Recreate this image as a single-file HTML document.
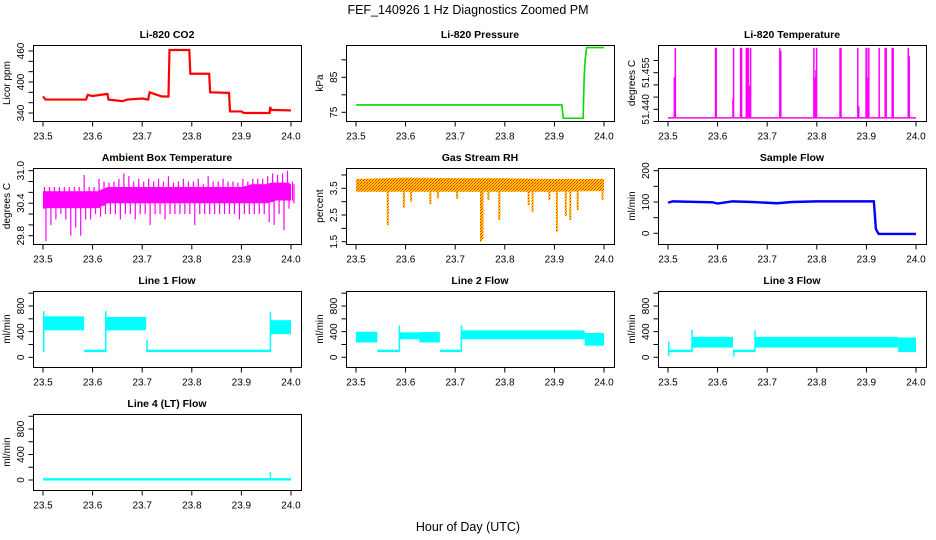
<!DOCTYPE html>
<html><head><meta charset="utf-8"><style>
html,body{margin:0;padding:0;background:#fff;}
svg{display:block;font-family:"Liberation Sans",Arial,sans-serif;}
</style></head><body>
<svg id="chart" width="936" height="540" viewBox="0 0 936 540" xmlns="http://www.w3.org/2000/svg">
<defs>
<pattern id="rhpat" width="3" height="3" patternUnits="userSpaceOnUse">
<rect width="3" height="3" fill="#ffc800"/><rect width="1" height="1" fill="#ff3000"/><rect x="1" y="2" width="1" height="1" fill="#ff3000"/><rect x="2" y="1" width="1" height="1" fill="#ff6000"/>
</pattern>
</defs>
<text x="468" y="14" text-anchor="middle" font-size="12.5" fill="#000">FEF_140926  1 Hz Diagnostics Zoomed PM</text>
<text x="468" y="531" text-anchor="middle" font-size="12.5" fill="#000">Hour of Day (UTC)</text>
</svg>
<script>
// ---- data ----
const xTicks = [23.5, 23.6, 23.7, 23.8, 23.9, 24.0];
const xTickLabels = ["23.5", "23.6", "23.7", "23.8", "23.9", "24.0"];

const co2T = [23.5,23.505,23.587,23.59,23.60,23.63,23.632,23.66,23.67,23.70,23.712,23.715,23.73,23.74,23.753,23.755,23.795,23.797,23.835,23.837,23.875,23.877,23.90,23.905,23.957,23.958,23.96,24.0];
const co2V = [372,366,366,375,373,377,366,363,366,368,366,380,375,372,372,462,462,416,416,380,379,343,343,340,340,352,346,345];

const presT = [23.5,23.915,23.918,23.958,23.96,23.962,23.965,24.0];
const presV = [77.1,77.1,73.3,73.3,85,90,93.5,93.5];

const tempBase = 51.4365;
const tempSpikeT = [23.5128,23.5148,23.5958,23.5972,23.631,23.6322,23.6464,23.6484,23.6579,23.6606,23.662,23.6646,23.6666,23.7254,23.7274,23.7941,23.7962,23.7982,23.7996,23.8468,23.8488,23.8826,23.8846,23.8994,23.9008,23.9022,23.9049,23.9257,23.9379,23.9399,23.952,23.954,23.9844,23.9864];
const tempSpikeV = [51.4532,51.4652,51.4652,51.4652,51.4442,51.4652,51.4652,51.4652,51.4652,51.4652,51.4652,51.4498,51.4652,51.4652,51.4639,51.4652,51.4532,51.456,51.4652,51.4652,51.4652,51.4652,51.4413,51.4652,51.4652,51.4532,51.4652,51.4652,51.4652,51.4652,51.4652,51.4652,51.4652,51.4617];

const ambT = [23.50,23.51,23.52,23.53,23.54,23.55,23.56,23.57,23.58,23.59,23.60,23.61,23.62,23.63,23.64,23.65,23.66,23.67,23.68,23.69,23.70,23.71,23.72,23.73,23.74,23.75,23.76,23.77,23.78,23.79,23.80,23.81,23.82,23.83,23.84,23.85,23.86,23.87,23.88,23.89,23.90,23.91,23.92,23.93,23.94,23.95,23.96,23.97,23.98,23.99,24.0];
const ambCoreLo = [30.30,30.31,30.31,30.31,30.31,30.31,30.31,30.31,30.31,30.31,30.31,30.31,30.35,30.40,30.40,30.40,30.40,30.40,30.40,30.40,30.40,30.40,30.40,30.40,30.40,30.40,30.40,30.40,30.40,30.40,30.40,30.40,30.40,30.40,30.40,30.40,30.40,30.40,30.40,30.40,30.40,30.40,30.40,30.40,30.40,30.40,30.42,30.45,30.45,30.45,30.45];
const ambCoreHi = [30.62,30.62,30.62,30.62,30.62,30.62,30.62,30.62,30.62,30.62,30.62,30.62,30.66,30.70,30.70,30.70,30.70,30.70,30.70,30.70,30.70,30.70,30.70,30.70,30.70,30.70,30.70,30.70,30.70,30.70,30.70,30.70,30.70,30.70,30.70,30.70,30.70,30.70,30.70,30.70,30.70,30.72,30.75,30.75,30.75,30.75,30.78,30.78,30.78,30.78,30.75];
const ambSpikeHi = [30.70,30.70,30.70,30.70,30.70,30.70,30.70,30.70,30.92,30.70,30.70,30.85,30.80,30.78,30.80,30.85,30.95,30.90,30.80,30.85,30.80,30.85,30.80,30.85,30.80,30.90,30.78,30.80,30.85,30.80,30.80,30.85,30.75,30.90,30.80,30.80,30.85,30.80,30.80,30.78,30.85,30.80,30.85,30.85,30.85,30.90,30.95,30.92,30.95,31.0,30.8];
const ambSpikeLo = [29.70,30.00,30.10,30.20,30.10,29.80,29.95,29.80,30.10,30.10,30.20,30.15,30.20,30.20,30.20,30.10,30.20,30.20,30.10,30.20,30.20,30.00,30.20,30.20,30.10,30.20,30.20,30.20,30.20,30.20,30.00,30.20,30.20,30.20,30.20,30.20,30.20,30.20,30.20,30.10,30.20,30.20,30.20,30.20,30.20,30.05,30.00,30.20,29.90,30.30,30.4];

const rhCoreT = [23.5,23.6,23.7,23.8,23.9,24.0];
const rhCoreLo = [3.37,3.37,3.37,3.37,3.37,3.40];
const rhCoreHi = [3.85,3.90,3.88,3.88,3.85,3.85];
const rhSpikeT = [23.564,23.5965,23.611,23.65,23.665,23.704,23.73,23.752,23.755,23.767,23.789,23.848,23.856,23.89,23.905,23.923,23.932,23.947,23.997];
const rhSpikeV = [2.12,2.77,3.0,2.91,3.12,3.12,3.37,1.5,1.6,3.06,2.31,2.87,2.62,3.06,1.87,2.47,2.31,2.69,3.06];

const sfT = [23.5,23.51,23.59,23.60,23.63,23.67,23.72,23.75,23.80,23.915,23.917,23.919,23.922,23.925,24.0];
const sfV = [98,102,99,95,102,100,96,100,102,102,60,15,5,-2,-2];

// flow segments: start time, end time, low, high
const l1Start = [23.500,23.502,23.583,23.625,23.627,23.708,23.710,23.957,23.959];
const l1End   = [23.502,23.583,23.625,23.627,23.708,23.710,23.957,23.959,24.000];
const l1Lo    = [100,440,100,100,440,100,100,100,380];
const l1Hi    = [700,620,100,700,610,250,100,690,560];

const l2Start = [23.500,23.543,23.586,23.588,23.628,23.669,23.711,23.713,23.961];
const l2End   = [23.543,23.586,23.588,23.628,23.669,23.711,23.713,23.961,24.000];
const l2Lo    = [250,100,100,300,250,100,100,300,200];
const l2Hi    = [380,100,477,370,375,100,482,400,360];

const l3Start = [23.500,23.503,23.547,23.549,23.631,23.633,23.674,23.676,23.964];
const l3End   = [23.503,23.547,23.549,23.631,23.633,23.674,23.676,23.964,24.000];
const l3Lo    = [36,100,100,170,30,100,100,170,100];
const l3Hi    = [227,100,410,300,100,100,400,300,290];

const l4Start = [23.500,23.957,23.960];
const l4End   = [23.957,23.960,24.000];
const l4Lo    = [10,10,10];
const l4Hi    = [10,104,10];

// ---- layout ----
const NS = "http://www.w3.org/2000/svg";
const svg = document.getElementById("chart");
const colX = [33, 346, 658];
const rowY = [45, 168, 291, 414];
const BW = 268, BH = 76;

function el(tag, attrs, parent) {
  const e = document.createElementNS(NS, tag);
  for (const k in attrs) e.setAttribute(k, attrs[k]);
  (parent || svg).appendChild(e);
  return e;
}

function makePanel(name, title, ylab, col, row, v1, p1, v2, p2, yTicks, yLabels) {
  const g = el("g", {});
  
  
  const x0 = colX[col], y0 = rowY[row];
  const xs = t => x0 + 10 + (t - 23.5) / 0.5 * 248;
  const ys = v => p1 + (v - v1) * (p2 - p1) / (v2 - v1);
  const clip = el("clipPath", {id: "clip-" + name}, g);
  el("rect", {x: x0, y: y0, width: BW, height: BH}, clip);
  const plot = el("g", {"clip-path": "url(#clip-" + name + ")"}, g);
  
  
  const box = el("rect", {x: x0 + 0.5, y: y0 + 0.5, width: BW, height: BH, fill: "none", stroke: "#000", "stroke-width": 1}, g);
  
  
  const t = el("text", {x: x0 + BW / 2, y: y0 - 7, "text-anchor": "middle", "font-size": 10.5, "font-weight": "bold"}, g);
  t.textContent = title;
  
  
  const xa = el("g", {}, g);
  
  
  const yb = y0 + BH + 0.5;
  el("line", {x1: xs(xTicks[0]), x2: xs(xTicks[xTicks.length - 1]), y1: yb, y2: yb, stroke: "#000"}, xa);
  xTicks.forEach((v, i) => {
    el("line", {x1: xs(v), x2: xs(v), y1: yb, y2: yb + 5, stroke: "#000"}, xa);
    const tl = el("text", {x: xs(v), y: yb + 18, "text-anchor": "middle", "font-size": 10}, xa);
    tl.textContent = xTickLabels[i];
    
    
  });
  const ya = el("g", {}, g);
  
  
  const xl = x0 + 0.5;
  el("line", {x1: xl, x2: xl, y1: ys(yTicks[0]), y2: ys(yTicks[yTicks.length - 1]), stroke: "#000"}, ya);
  yTicks.forEach((v, i) => {
    const yy = ys(v);
    el("line", {x1: xl - 5, x2: xl, y1: yy, y2: yy, stroke: "#000"}, ya);
    if (yLabels[i]) {
      const tl = el("text", {x: x0 - 9, y: yy, "text-anchor": "middle", "font-size": 10, transform: "rotate(-90 " + (x0 - 9) + " " + yy + ")"}, ya);
      tl.textContent = yLabels[i];
      
      
    }
  });
  const yl = el("text", {x: x0 - 23, y: y0 + BH / 2, "text-anchor": "middle", "font-size": 10, transform: "rotate(-90 " + (x0 - 23) + " " + (y0 + BH / 2) + ")"}, g);
  yl.textContent = ylab;
  
  
  return {plot, xs, ys};
}

function stepLine(p, T, V, color, w, name) {
  let d = "";
  T.forEach((t, i) => {
    d += (i === 0 ? "M" : "L") + p.xs(t).toFixed(2) + "," + p.ys(V[i]).toFixed(2);
  });
  const path = el("path", {d, fill: "none", stroke: color, "stroke-width": w}, p.plot);
  
  
}

function band(p, T, lo, hi, fill, name) {
  let d = "";
  T.forEach((t, i) => { d += (i === 0 ? "M" : "L") + p.xs(t).toFixed(2) + "," + p.ys(hi[i]).toFixed(2); });
  for (let i = T.length - 1; i >= 0; i--) d += "L" + p.xs(T[i]).toFixed(2) + "," + p.ys(lo[i]).toFixed(2);
  d += "Z";
  const path = el("path", {d, fill, stroke: "none"}, p.plot);
  
  
}

function vline(p, t, a, b, color, w, name) {
  const l = el("line", {x1: p.xs(t), x2: p.xs(t), y1: p.ys(a), y2: p.ys(b), stroke: color, "stroke-width": w}, p.plot);
  
  
}

function segments(p, S, E, lo, hi, color, name) {
  S.forEach((s, i) => {
    const x1 = p.xs(s), x2 = p.xs(E[i]);
    const y1 = p.ys(hi[i]), y2 = p.ys(lo[i]);
    const r = el("rect", {x: x1, y: Math.min(y1, y2) - 1.2, width: Math.max(x2 - x1, 1.5), height: Math.abs(y2 - y1) + 2.4, fill: color}, p.plot);
    
    
  });
}

let p = makePanel("co2", "Li-820 CO2", "Licor ppm", 0, 0, 460, 51, 340, 113, [340,360,380,400,420,440,460], ["340","","","400","","","460"]);
stepLine(p, co2T, co2V, "#ff0000", 2.2, "co2-line");

p = makePanel("pressure", "Li-820 Pressure", "kPa", 1, 0, 85, 77.3, 75, 112.3, [75,80,85,90], ["75","","85",""]);
stepLine(p, presT, presV, "#00dd00", 1.6, "pressure-line");

p = makePanel("li820-temp", "Li-820 Temperature", "degrees C", 2, 0, 51.440, 109.3, 51.455, 72.7, [51.435,51.440,51.445,51.450,51.455,51.460], ["","51.440","","","51.455",""]);
stepLine(p, [23.5, 24.0], [tempBase, tempBase], "#ff00ff", 1.5, "li820-temp-baseline");
tempSpikeT.forEach((t, i) => vline(p, t, tempBase, tempSpikeV[i], "#ff00ff", 1.5, "li820-temp-spike"));

p = makePanel("ambient", "Ambient Box Temperature", "degrees C", 0, 1, 31.0, 170.7, 29.8, 235.7, [29.8,30.0,30.2,30.4,30.6,30.8,31.0], ["29.8","","","30.4","","","31.0"]);
band(p, ambT, ambCoreLo, ambCoreHi, "#ff00ff", "ambient-band");
ambT.forEach((t, i) => {
  vline(p, t + 0.003, ambCoreLo[i], ambSpikeHi[i], "#ff00ff", 1.2, "ambient-spike-high");
  vline(p, t + 0.006, ambSpikeLo[i], ambCoreHi[i], "#ff00ff", 1.2, "ambient-spike-low");
});

p = makePanel("rh", "Gas Stream RH", "percent", 1, 1, 3.5, 188.3, 1.5, 241.7, [1.5,2.0,2.5,3.0,3.5,4.0], ["1.5","","2.5","","3.5",""]);
band(p, rhCoreT, rhCoreLo, rhCoreHi, "url(#rhpat)", "rh-band");
rhSpikeT.forEach((t, i) => vline(p, t, 3.5, rhSpikeV[i], "url(#rhpat)", 2, "rh-spike"));

p = makePanel("sample-flow", "Sample Flow", "ml/min", 2, 1, 200, 170.7, 0, 233.3, [0,50,100,150,200], ["0","","100","","200"]);
stepLine(p, sfT, sfV, "#0000ff", 2.4, "sample-flow-line");

const lineTicks = [0,200,400,600,800,1000], lineLabels = ["0","","400","","800",""];
p = makePanel("line1", "Line 1 Flow", "ml/min", 0, 2, 800, 306, 0, 357.3, lineTicks, lineLabels);
segments(p, l1Start, l1End, l1Lo, l1Hi, "#00ffff", "line1");
p = makePanel("line2", "Line 2 Flow", "ml/min", 1, 2, 800, 306, 0, 357.3, lineTicks, lineLabels);
segments(p, l2Start, l2End, l2Lo, l2Hi, "#00ffff", "line2");
p = makePanel("line3", "Line 3 Flow", "ml/min", 2, 2, 800, 306, 0, 357.3, lineTicks, lineLabels);
segments(p, l3Start, l3End, l3Lo, l3Hi, "#00ffff", "line3");
p = makePanel("line4", "Line 4 (LT) Flow", "ml/min", 0, 3, 800, 429, 0, 480, lineTicks, lineLabels);
segments(p, l4Start, l4End, l4Lo, l4Hi, "#00ffff", "line4");
</script>
</body></html>
